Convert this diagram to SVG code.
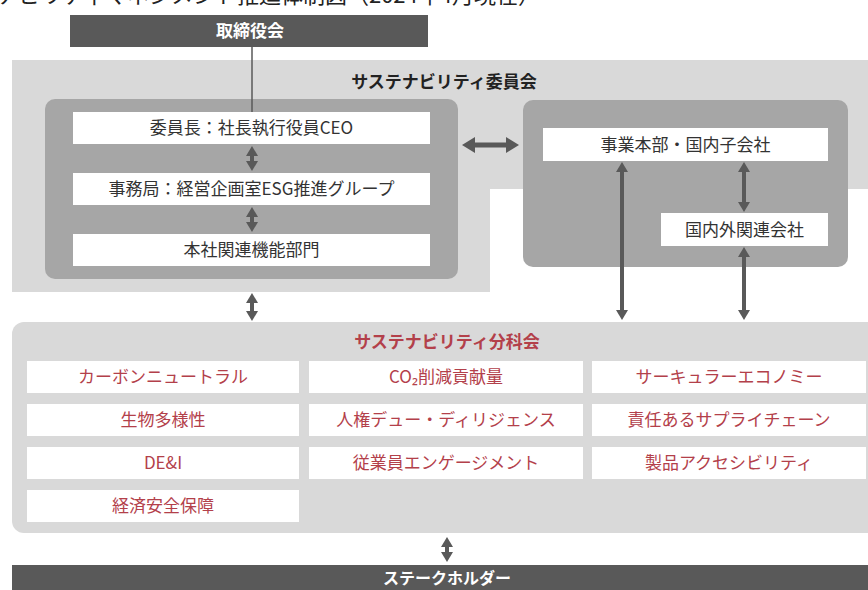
<svg xmlns="http://www.w3.org/2000/svg" width="868" height="590" viewBox="0 0 868 590">
<style>
text{font-family:"Noto Sans CJK JP","Noto Sans",sans-serif;text-anchor:middle}
.t{font-size:17px;fill:#333}
.r{font-size:17px;fill:#b3404a}
.h{font-size:17px;font-weight:bold;fill:#222}
.hr{font-size:17px;font-weight:bold;fill:#b3404a}
.w{font-size:17px;font-weight:bold;fill:#fff}
.box{fill:#fff}
.dark{fill:#595959}
.mid{fill:#a6a6a6}
.light{fill:#d9d9d9}
.ar{stroke:#595959;stroke-width:4;fill:none;marker-start:url(#ah);marker-end:url(#ah)}
.arb{stroke:#595959;stroke-width:5;fill:none;marker-start:url(#ahb);marker-end:url(#ahb)}
</style>
<defs>
<marker id="ah" viewBox="0 0 10 12" refX="2" refY="6" markerWidth="10" markerHeight="12" markerUnits="userSpaceOnUse" orient="auto-start-reverse"><path d="M0,0 L10,6 L0,12 Z" fill="#595959"/></marker>
<marker id="ahb" viewBox="0 0 13 16" refX="3" refY="8" markerWidth="13" markerHeight="16" markerUnits="userSpaceOnUse" orient="auto-start-reverse"><path d="M0,0 L13,8 L0,16 Z" fill="#595959"/></marker>
</defs>

<text x="540" y="3" style="font-size:22px;fill:#222;text-anchor:end">サステナビリティマネジメント推進体制図（2024年4月現在）</text>

<g id="board"><rect class="dark" x="70" y="15" width="358" height="32"/><text class="w" x="250" y="37">取締役会</text></g>

<g id="committee">
<path class="light" d="M12,60 H868 V189 H490 V292 H12 Z"/>
<text class="h" x="444" y="88">サステナビリティ委員会</text>
<g id="hq-group"><rect class="mid" x="45" y="99" width="413" height="180" rx="10"/></g>
<g id="ceo"><rect class="box" x="73" y="112" width="357" height="32"/><text class="t" x="251.5" y="134">委員長：社長執行役員CEO</text></g>
<g id="secretariat"><rect class="box" x="73" y="173" width="357" height="32"/><text class="t" x="251.5" y="195">事務局：経営企画室ESG推進グループ</text></g>
<g id="hq-depts"><rect class="box" x="73" y="234" width="357" height="32"/><text class="t" x="251.5" y="256">本社関連機能部門</text></g>
<g id="biz-group"><rect class="mid" x="523" y="100" width="325" height="167" rx="10"/></g>
<g id="business"><rect class="box" x="543" y="128" width="285" height="33"/><text class="t" x="685.5" y="150.5">事業本部・国内子会社</text></g>
<g id="affiliates"><rect class="box" x="661" y="213" width="167" height="33"/><text class="t" x="744.5" y="235.5">国内外関連会社</text></g>
</g>

<g id="subcommittee">
<rect class="light" x="12" y="322" width="880" height="211" rx="12"/>
<text class="hr" x="447" y="348">サステナビリティ分科会</text>
<g id="s1"><rect class="box" x="27" y="361" width="272" height="32"/><text class="r" x="163" y="383">カーボンニュートラル</text></g>
<g id="s2"><rect class="box" x="309" y="361" width="274" height="32"/><text class="r" x="446" y="383">CO₂削減貢献量</text></g>
<g id="s3"><rect class="box" x="592" y="361" width="274" height="32"/><text class="r" x="729" y="383">サーキュラーエコノミー</text></g>
<g id="s4"><rect class="box" x="27" y="404" width="272" height="32"/><text class="r" x="163" y="426">生物多様性</text></g>
<g id="s5"><rect class="box" x="309" y="404" width="274" height="32"/><text class="r" x="446" y="426">人権デュー・ディリジェンス</text></g>
<g id="s6"><rect class="box" x="592" y="404" width="274" height="32"/><text class="r" x="729" y="426">責任あるサプライチェーン</text></g>
<g id="s7"><rect class="box" x="27" y="447" width="272" height="32"/><text class="r" x="163" y="469">DE&amp;I</text></g>
<g id="s8"><rect class="box" x="309" y="447" width="274" height="32"/><text class="r" x="446" y="469">従業員エンゲージメント</text></g>
<g id="s9"><rect class="box" x="592" y="447" width="274" height="32"/><text class="r" x="729" y="469">製品アクセシビリティ</text></g>
<g id="s10"><rect class="box" x="27" y="490" width="272" height="32"/><text class="r" x="163" y="512">経済安全保障</text></g>
</g>

<g id="stakeholders"><rect class="dark" x="12" y="565" width="870" height="25"/><text class="w" x="447" y="583.5" style="font-size:16px">ステークホルダー</text></g>

<g id="connectors">
<line x1="252" y1="47" x2="252" y2="112" stroke="#595959" stroke-width="1.5"/>
<line class="ar" x1="252" y1="154" x2="252" y2="163"/>
<line class="ar" x1="252" y1="215" x2="252" y2="224"/>
<line class="arb" x1="472" y1="145" x2="509" y2="145"/>
<line class="ar" x1="744" y1="170" x2="744" y2="204"/>
<line class="ar" x1="622" y1="170" x2="622" y2="312"/>
<line class="ar" x1="744" y1="255" x2="744" y2="312"/>
<line class="ar" x1="252" y1="301" x2="252" y2="313"/>
<line class="ar" x1="447" y1="545" x2="447" y2="554"/>
</g>
</svg>
